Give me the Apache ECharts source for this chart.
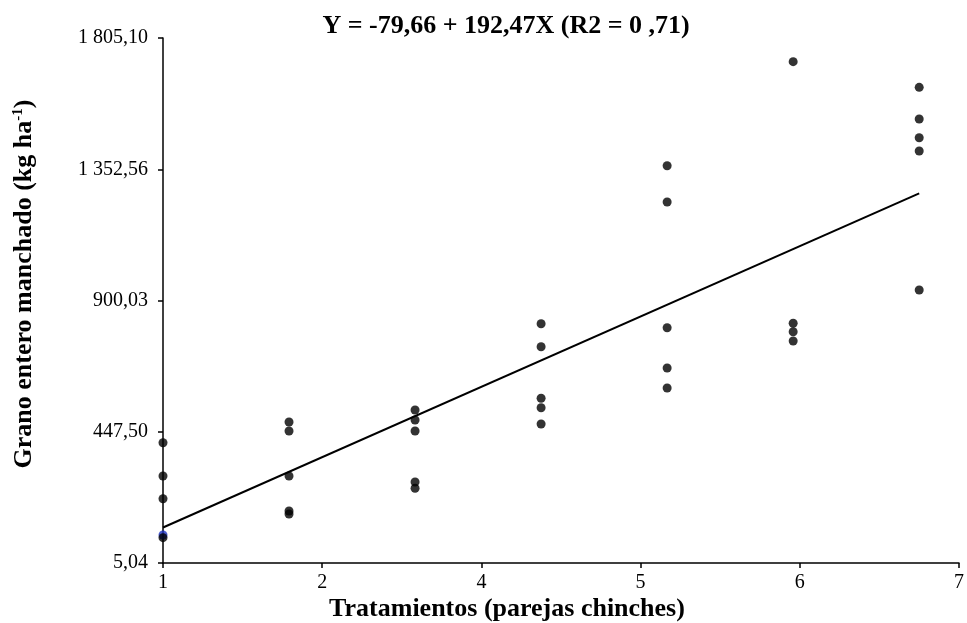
<!DOCTYPE html>
<html>
<head>
<meta charset="utf-8">
<script src="https://cdn.jsdelivr.net/npm/echarts@6/dist/echarts.min.js"></script>
<style>html,body{margin:0;padding:0;background:#fff}#c{width:967px;height:623px}</style>
</head>
<body>
<div id="c"></div>
<script>
// Tick labels as printed on the original chart
const xTickLabels = ['1', '2', '4', '5', '6', '7'];
const yTickLabels = ['5,04', '447,50', '900,03', '1 352,56', '1 805,10'];

// Observed points (treatment, kg/ha)
const treat1 = [405.9, 290.8, 212.3, 77.5];
const treat1Blue = [86.8];
const treat2 = [477.5, 446.4, 290.8, 169.8, 159.4];
const treat3 = [519.0, 484.4, 446.4, 270.0, 248.3];
const treat4 = [817.3, 737.8, 559.4, 526.9, 470.6];
const treat5 = [1363.6, 1238.1, 803.5, 664.2, 595.0];
const treat6 = [1723.2, 818.7, 789.7, 757.5];
const treat7 = [1634.6, 1525.0, 1460.4, 1414.4, 933.8];
const treatments = [1, 2, 3, 4, 5, 6, 7];
const groups = [treat1, treat2, treat3, treat4, treat5, treat6, treat7];

// Fitted line end points
const fitX = [1, 7];
const fitY = [112.81, 1267.63];

const titleText = 'Y = -79,66 + 192,47X (R2 = 0 ,71)';
const xName = 'Tratamientos (parejas chinches)';
const yName = 'Grano entero manchado (kg ha{sup|-1})';

const pts = [];
groups.forEach((g, i) => g.forEach(v => pts.push([treatments[i], v])));

const serif = '"Liberation Serif", "Times New Roman", serif';
const chart = echarts.init(document.getElementById('c'), null, {renderer: 'canvas'});
chart.setOption({
  animation: false,
  backgroundColor: '#fff',
  graphic: [{
    type: 'text', x: 506, y: 26,
    style: {text: titleText, fontFamily: serif, fontWeight: 'bold', fontSize: 26, fill: '#000',
      align: 'center', verticalAlign: 'middle'}
  }, {
    type: 'text', x: 507, y: 609,
    style: {text: xName, fontFamily: serif, fontWeight: 'bold', fontSize: 26, fill: '#000',
      align: 'center', verticalAlign: 'middle'}
  }, {
    type: 'text', x: 24, y: 284, rotation: Math.PI / 2,
    style: {text: yName, fontFamily: serif, fontWeight: 'bold', fontSize: 26, fill: '#000',
      align: 'center', verticalAlign: 'middle',
      rich: {sup: {fontFamily: serif, fontWeight: 'bold', fontSize: 15, fill: '#000', verticalAlign: 'top', padding: [0, 0, 12, 0]}}}
  }],
  grid: {left: 163, right: 4, top: 38, bottom: 60, containLabel: false},
  xAxis: [{
    type: 'value', min: 0, max: 5, interval: 1,
    axisLine: {show: true, onZero: false, lineStyle: {color: '#000', width: 1.5}},
    axisTick: {show: true, length: 5, lineStyle: {color: '#000', width: 1.5}},
    axisLabel: {formatter: (v) => xTickLabels[Math.round(v)], fontFamily: serif, fontSize: 20, color: '#000', margin: 10},
    splitLine: {show: false}
  }, {
    type: 'value', min: 1, max: 1 + 6 * 800 / 760, show: false, splitLine: {show: false}
  }],
  yAxis: [{
    type: 'value', min: 0, max: 4, interval: 1,
    axisLine: {show: true, onZero: false, lineStyle: {color: '#000', width: 1.5}},
    axisTick: {show: true, length: 5, lineStyle: {color: '#000', width: 1.5}},
    axisLabel: {formatter: (v) => yTickLabels[Math.round(v)], fontFamily: serif, fontSize: 20, color: '#000', margin: 15},
    splitLine: {show: false}
  }, {
    type: 'value', min: -10, max: 1805.1, show: false, splitLine: {show: false}
  }],
  series: [{
    type: 'line', xAxisIndex: 1, yAxisIndex: 1,
    data: fitX.map((x, i) => [x, fitY[i]]),
    showSymbol: false, symbol: 'none',
    lineStyle: {color: '#000', width: 2}, z: 2
  }, {
    type: 'scatter', xAxisIndex: 1, yAxisIndex: 1,
    data: treat1Blue.map(v => [treatments[0], v]),
    symbolSize: 9, itemStyle: {color: '#1a2fc0'}, z: 3
  }, {
    type: 'scatter', xAxisIndex: 1, yAxisIndex: 1,
    data: pts, symbolSize: 9, itemStyle: {color: '#000'}, z: 4
  }]
});
</script>
</body>
</html>
